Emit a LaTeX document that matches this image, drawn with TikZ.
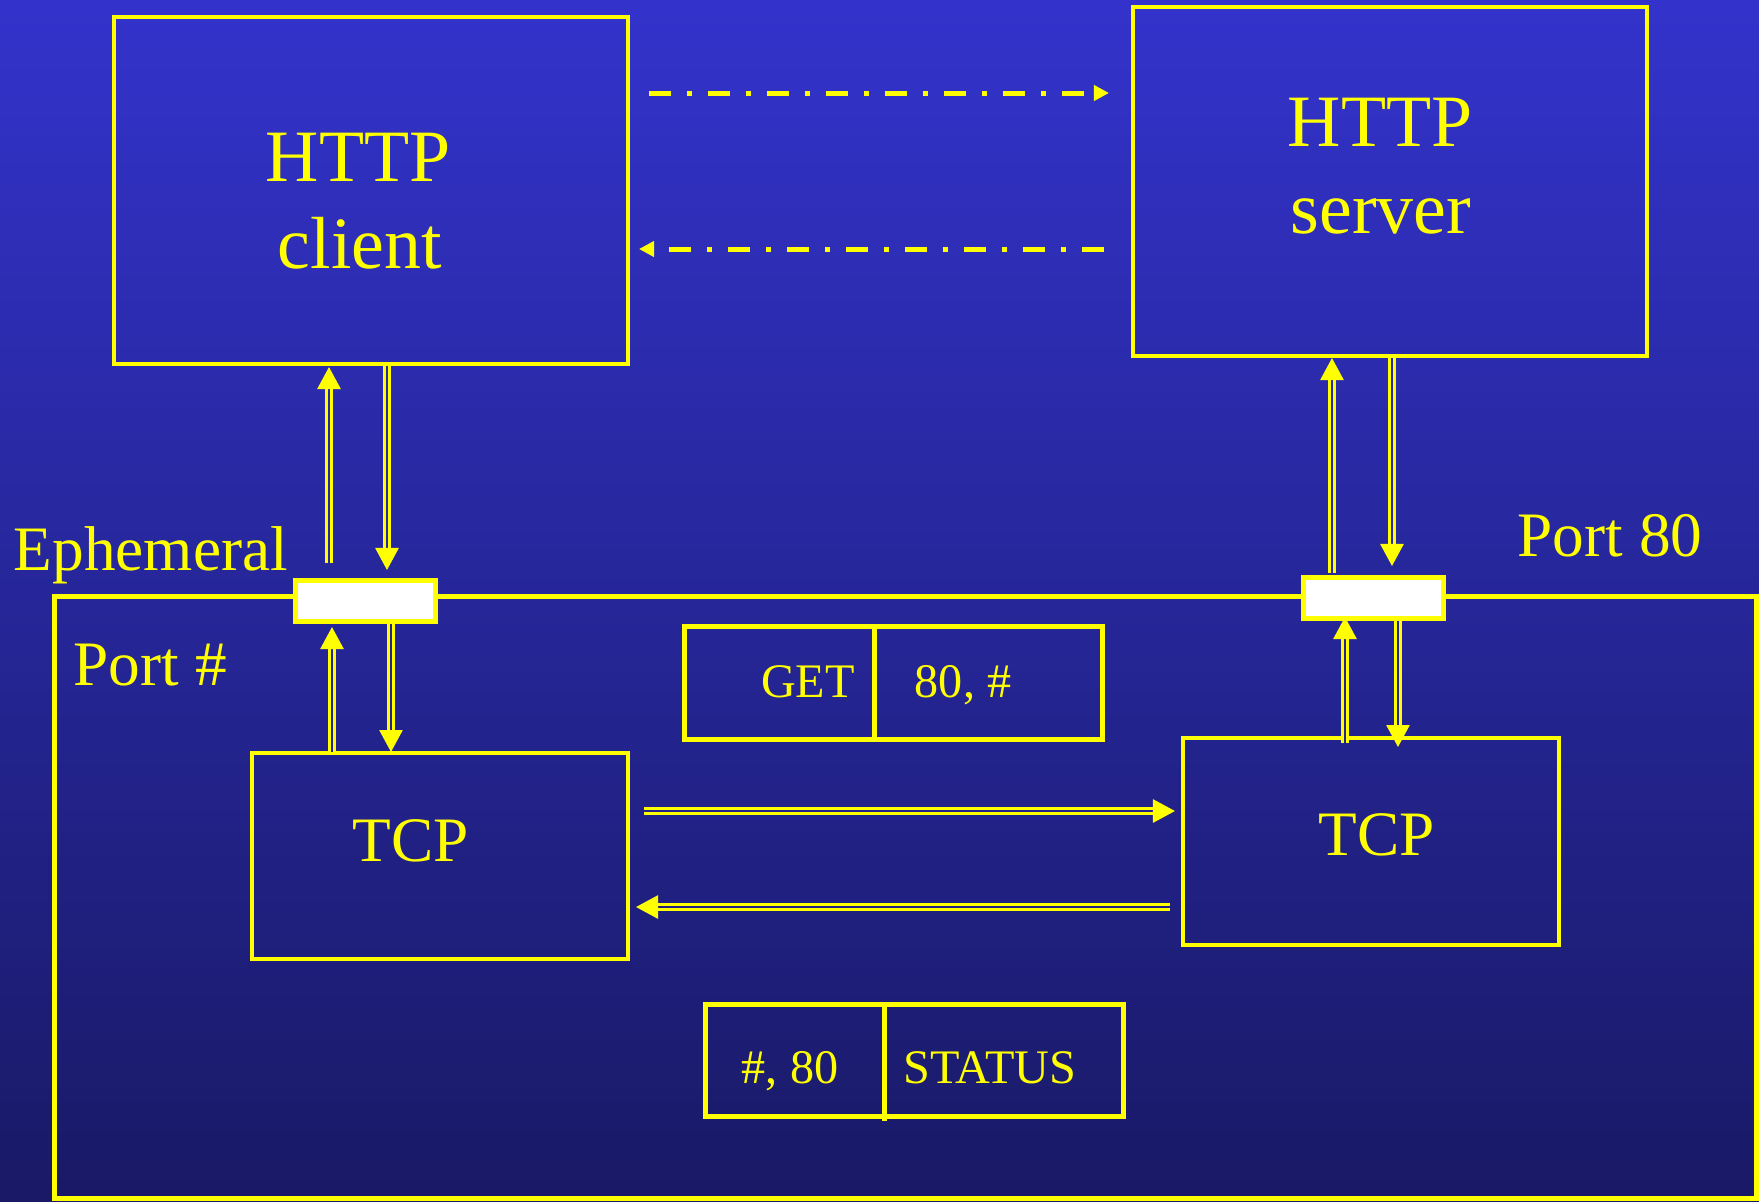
\documentclass[tikz,border=0pt]{standalone}
\usepackage{fontspec}
\setmainfont{Liberation Serif}
\usetikzlibrary{arrows.meta}
\definecolor{bgtop}{RGB}{51,51,204}
\definecolor{bgbot}{RGB}{25,25,102}
\definecolor{yl}{RGB}{255,255,0}
\begin{document}
\begin{tikzpicture}[x=0.01cm,y=-0.01cm,
  box/.style={draw=yl, line width=0.045cm, inner sep=0pt, outer sep=0pt},
  portbox/.style={draw=yl, fill=white, line width=0.05cm, inner sep=0pt, minimum width=1.40cm, minimum height=0.41cm},
  lbl/.style={text=yl, inner sep=0pt, anchor=base},
  fbig/.style={font=\fontsize{21}{25}\selectfont},
  fmid/.style={font=\fontsize{18}{22}\selectfont},
  fsmall/.style={font=\fontsize{13.7}{16}\selectfont},
  dashdot/.style={draw=yl, line width=0.05cm, dash pattern=on 0.22cm off 0.16cm on 0.05cm off 0.16cm, -{Triangle[width=0.15cm,length=0.15cm]}},
  dbl/.style={draw=yl, line width=0.027cm, double distance=0.027cm, -{Triangle[width=0.23cm,length=0.22cm]}}
]
\shade[top color=bgtop,bottom color=bgbot] (0,0) rectangle (1759,1202);
\useasboundingbox (0,0) rectangle (1759,1202);

% big host box
\node[box, line width=0.05cm, minimum width=17.01cm, minimum height=6.01cm] (host) at (905.5,897.5) {};

% ports
\node[portbox] (lport) at (365.5,601) {};
\node[portbox] (rport) at (1373.5,598) {};

% application and TCP boxes
\node[box, minimum width=5.14cm, minimum height=3.47cm] (client) at (371,190.5) {};
\node[box, minimum width=5.14cm, minimum height=3.49cm] (server) at (1390,181.5) {};
\node[box, minimum width=3.76cm, minimum height=2.06cm] (ltcp) at (440,856) {};
\node[box, minimum width=3.76cm, minimum height=2.07cm] (rtcp) at (1371,841.5) {};

% packets
\node[box, line width=0.05cm, minimum width=4.17cm, minimum height=1.12cm] (get) at (893.5,683) {};
\coordinate (gd) at (874,0);
\draw[yl, line width=0.05cm] (gd |- get.north) -- (gd |- get.south);
\node[box, line width=0.05cm, minimum width=4.17cm, minimum height=1.11cm] (status) at (914.5,1060.5) {};
\coordinate (sd) at (884,0);
\draw[yl, line width=0.05cm] (sd |- status.north) -- ([yshift=-0.05cm]sd |- status.south);

% texts
\node[lbl, fbig] (t1) at (358,181) {HTTP};
\node[lbl, fbig] (t2) at (360,268) {client};
\node[lbl, fbig] (t3) at (1380,146) {HTTP};
\node[lbl, fbig] (t4) at (1381,233) {server};
\node[lbl, fmid, anchor=base west] (t5) at (13,570) {Ephemeral};
\node[lbl, fmid, anchor=base west] (t6) at (73,685) {Port \#};
\node[lbl, fmid, anchor=base west] (t7) at (1517,556) {Port 80};
\node[lbl, fmid] (t8) at (410.5,861) {TCP};
\node[lbl, fmid] (t9) at (1377,855) {TCP};
\node[lbl, fsmall] (t10) at (808,697) {GET};
\node[lbl, fsmall] (t11) at (963,697) {80, \#};
\node[lbl, fsmall] (t12) at (790,1083) {\#, 80};
\node[lbl, fsmall] (t13) at (990,1083) {STATUS};

% dash-dot application messages
\coordinate (r1a) at (649,93);
\coordinate (r1b) at (1109,93);
\coordinate (r2a) at (1104,249);
\coordinate (r2b) at (639,249);
\draw[dashdot] (r1a) -- (r1b);
\draw[dashdot] (r2a) -- (r2b);

% double vertical arrows (left)
\coordinate (a1s) at (329,563); \coordinate (a1e) at (329,367);
\coordinate (a2s) at (387,366); \coordinate (a2e) at (387,570);
\coordinate (a3s) at (332,752); \coordinate (a3e) at (332,627);
\coordinate (a4s) at (391,624); \coordinate (a4e) at (391,752);
\draw[dbl, double=bgtop!61!bgbot] (a1s) -- (a1e);
\draw[dbl, double=bgtop!61!bgbot] (a2s) -- (a2e);
\draw[dbl, double=bgtop!43!bgbot] (a3s) -- (a3e);
\draw[dbl, double=bgtop!43!bgbot] (a4s) -- (a4e);

% double vertical arrows (right)
\coordinate (a5s) at (1332,573); \coordinate (a5e) at (1332,358);
\coordinate (a6s) at (1392,358); \coordinate (a6e) at (1392,566);
\coordinate (a7s) at (1345,743); \coordinate (a7e) at (1345,617);
\coordinate (a8s) at (1398,621); \coordinate (a8e) at (1398,747);
\draw[dbl, double=bgtop!61!bgbot] (a5s) -- (a5e);
\draw[dbl, double=bgtop!61!bgbot] (a6s) -- (a6e);
\draw[dbl, double=bgtop!43!bgbot] (a7s) -- (a7e);
\draw[dbl, double=bgtop!43!bgbot] (a8s) -- (a8e);

% double horizontal arrows between TCPs
\coordinate (h1s) at (644,811); \coordinate (h1e) at (1175,811);
\coordinate (h2s) at (1170,907); \coordinate (h2e) at (636,907);
\draw[dbl, double=bgtop!33!bgbot] (h1s) -- (h1e);
\draw[dbl, double=bgtop!25!bgbot] (h2s) -- (h2e);
\end{tikzpicture}
\end{document}
